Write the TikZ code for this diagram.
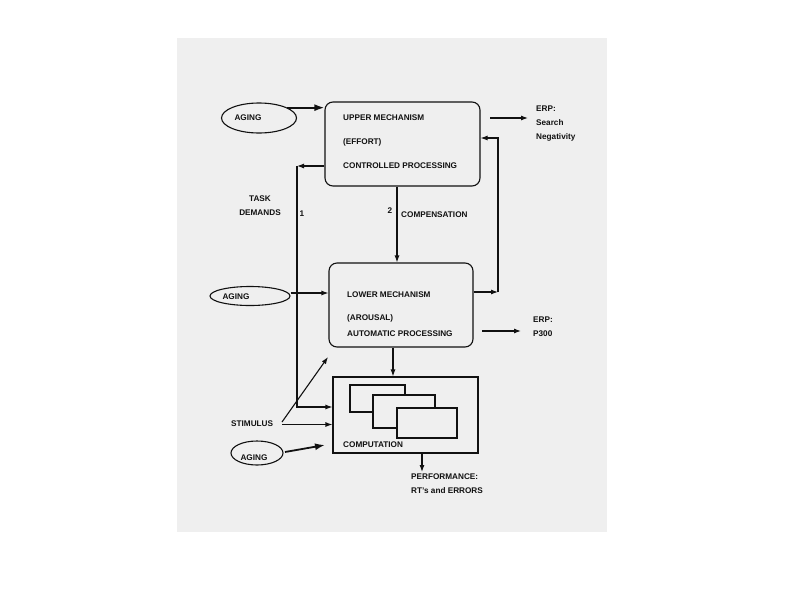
\documentclass[tikz,border=0pt]{standalone}
\usepackage{fontspec}
\setmainfont{Liberation Sans}
\usetikzlibrary{arrows.meta,shapes.geometric,calc}
\definecolor{pagecol}{HTML}{EFEFEF}
\definecolor{ink}{HTML}{111111}
\begin{document}
\begin{tikzpicture}[x=1pt,y=-1pt,
  lbl/.style={font=\fontsize{8.2}{14}\selectfont\bfseries, text=ink, inner sep=0pt},
  agingell/.style={draw=ink, line width=1.1pt, ellipse, inner sep=0pt},
  mechbox/.style={draw=ink, line width=1.1pt, rounded corners=8pt, inner sep=0pt},
  arr/.style={draw=ink, line width=1.1pt, -{Latex[length=7pt,width=5pt]}},
  thickarr/.style={draw=ink, line width=1.8pt, -{Latex[length=10pt,width=7pt]}},
  plain/.style={draw=ink, line width=1.1pt}]
\useasboundingbox (0,0) rectangle (800,600);
\fill[white] (0,0) rectangle (800,600);
\fill[pagecol] (177,38) rectangle (607,532);

% upper mechanism
\node[mechbox, minimum width=155pt, minimum height=84pt] (upper) at (402.5,144) {};
\node[lbl, anchor=west] (u1) at (343,118) {UPPER MECHANISM};
\node[lbl, anchor=west] (u2) at (343,142) {(EFFORT)};
\node[lbl, anchor=west] (u3) at (343,166) {CONTROLLED PROCESSING};

% lower mechanism
\node[mechbox, minimum width=144pt, minimum height=84pt] (lower) at (401,305) {};
\node[lbl, anchor=west] (l1) at (347,295) {LOWER MECHANISM};
\node[lbl, anchor=west] (l2) at (347,318) {(AROUSAL)};
\node[lbl, anchor=west] (l3) at (347,334) {AUTOMATIC PROCESSING};

% computation
\node[draw=ink, line width=1.1pt, minimum width=145pt, minimum height=76pt, inner sep=0pt] (comp) at (405.5,415) {};
\draw[plain, fill=pagecol] (350,385) rectangle (405,412);
\draw[plain, fill=pagecol] (373,395) rectangle (435,428);
\draw[plain, fill=pagecol] (397,408) rectangle (457,438);
\node[lbl, anchor=west] (ct) at (343,445) {COMPUTATION};

% aging ellipses
\node[agingell, minimum width=75pt, minimum height=30pt] (aging1) at (259,118) {};
\node[lbl] (a1t) at (248,118) {AGING};
\node[agingell, minimum width=80pt, minimum height=19pt] (aging2) at (250,296) {};
\node[lbl] (a2t) at (236,297) {AGING};
\node[agingell, minimum width=52pt, minimum height=24pt] (aging3) at (257,453) {};
\node[lbl] (a3t) at (254,458) {AGING};

% labels
\node[lbl, align=center] (task) at (260,205.5) {TASK\\DEMANDS};
\node[lbl] (one) at (302,214) {1};
\node[lbl] (two) at (390,211) {2};
\node[lbl, anchor=west] (compens) at (401,215) {COMPENSATION};
\node[lbl, anchor=west] (stim) at (231,424) {STIMULUS};
\node[lbl, align=left, anchor=west] (erp1) at (536,124) {ERP:\\Search\\Negativity};
\node[lbl, align=left, anchor=west] (erp2) at (533,326.5) {ERP:\\P300};
\node[lbl, align=left, anchor=north west] (perf) at (411,474) {PERFORMANCE:\\RT's and ERRORS};

% coordinates
\coordinate (e1s) at (490,118);
\coordinate (e1e) at (528,118);
\coordinate (e2s) at (482,331);
\coordinate (e2e) at (521,331);
\coordinate (ltop) at (297,166);
\coordinate (lbot) at (297,407);
\coordinate (rtop) at (498,138);
\coordinate (rbot) at (498,292);
\coordinate (cx) at (397,0);
\coordinate (cx2) at (393,0);
\coordinate (stimtip) at (328,357);
\coordinate (px) at (422,472);

% connectors
\draw[thickarr] (aging1.20) -- (aging1.20 -| upper.west);
\draw[arr] (aging2.east |- 0,293) -- (lower.west |- 0,293);
\draw[thickarr] (285,452) -- (325,445);
\draw[arr] (e1s) -- (e1e);
\draw[arr] (e2s) -- (e2e);
\draw[arr] (upper.west |- ltop) -- (ltop);
\draw[arr] (ltop) -- (lbot) -- (comp.west |- lbot);
\draw[arr] (lower.east |- rbot) -- (rbot);
\draw[arr] (rbot) -- (rtop) -- (upper.east |- rtop);
\draw[arr] (upper.south -| cx) -- (lower.north -| cx);
\draw[arr] (lower.south -| cx2) -- (comp.north -| cx2);
\draw[arr] (282,422) -- (stimtip);
\draw[arr] (282,424.5) -- (comp.west |- 0,424.5);
\draw[arr] (comp.south -| px) -- (px);
\end{tikzpicture}
\end{document}
